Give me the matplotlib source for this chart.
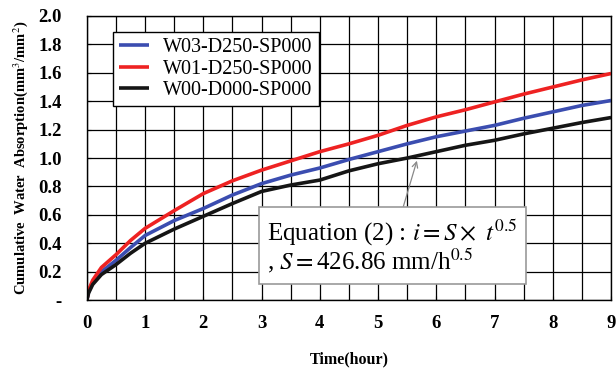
import numpy as np
import matplotlib
matplotlib.use("Agg")
import matplotlib.pyplot as plt

plt.rcParams['font.family'] = 'Liberation Serif'
plt.rcParams['mathtext.fontset'] = 'stix'

# Cumulative water absorption (mm^3/mm^2) read along the time axis (hours)
time_h = [0, 0.03, 0.1, 0.25, 0.5, 0.75, 1, 1.5, 2, 2.5, 3, 3.5, 4, 4.5,
          5, 5.5, 6, 6.5, 7, 7.5, 8, 8.5, 9]
w03_d250 = [0, 0.06, 0.12, 0.20, 0.28, 0.37, 0.455, 0.56, 0.645, 0.74, 0.82, 0.88, 0.93, 0.99,
            1.045, 1.10, 1.15, 1.19, 1.23, 1.28, 1.325, 1.37, 1.405]
w01_d250 = [0, 0.07, 0.14, 0.23, 0.32, 0.42, 0.505, 0.63, 0.75, 0.84, 0.915, 0.98, 1.045, 1.10,
            1.16, 1.23, 1.29, 1.34, 1.395, 1.45, 1.50, 1.55, 1.595]
w00_d000 = [0, 0.05, 0.11, 0.18, 0.25, 0.33, 0.40, 0.50, 0.59, 0.68, 0.765, 0.81, 0.845, 0.91,
            0.96, 1.00, 1.045, 1.09, 1.125, 1.17, 1.21, 1.25, 1.285]

series_names = ["W03-D250-SP000", "W01-D250-SP000", "W00-D000-SP000"]
series_colors = ["#3b4db0", "#ee2222", "#151515"]

x_ticks = np.arange(0, 10, 1)
y_ticks = np.round(np.arange(0, 2.01, 0.2), 1)
y_tick_labels = ["-"] + [f"{v:.1f}" for v in y_ticks[1:]]

fig = plt.figure(figsize=(6.16, 3.71), dpi=100)
ax = fig.add_axes([0.141, 0.191, 0.851, 0.766])

for vals, name, color in zip([w03_d250, w01_d250, w00_d000], series_names, series_colors):
    ax.plot(time_h, vals, color=color, lw=2.6, label=name, solid_capstyle='butt')

ax.set_xlim(0, 9)
ax.set_ylim(0, 2.0)
ax.set_xticks(np.arange(0, 9.01, 0.5), minor=True)
ax.set_xticks(x_ticks)
ax.set_yticks(y_ticks)
ax.set_xticklabels([str(v) for v in x_ticks], fontweight='bold', fontsize=13.5)
ax.set_yticklabels(y_tick_labels, fontweight='bold', fontsize=13.5)
ax.grid(True, which='both', color='black', lw=0.9)
ax.set_axisbelow(True)
ax.tick_params(which='both', direction='in', length=3)
ax.tick_params(axis='y', pad=18)
ax.tick_params(axis='x', pad=11)
for sp in ax.spines.values():
    sp.set_color('black')
    sp.set_linewidth(1.0)

ax.set_xlabel("Time(hour)", fontweight='bold', fontsize=11.5, labelpad=14)
ax.set_ylabel("Cumulative  Water  Absorption(mm$^3$/mm$^2$)", fontweight='bold',
              fontsize=10.5, labelpad=6)

leg = ax.legend(loc='upper left', bbox_to_anchor=(0.03, 0.978), fontsize=14.5,
                fancybox=False, framealpha=1, edgecolor='black', handlelength=1.5,
                borderpad=0.3, labelspacing=0.12, handletextpad=0.7)
leg.get_frame().set_linewidth(1.0)

ax.annotate("", xy=(5.68, 1.0), xytext=(5.42, 0.64),
            arrowprops=dict(arrowstyle='->', color='#888888', lw=0.9))
ax.text(3.1, 0.38, "Equation (2) : $i = S\\times\\ t^{0.5}$\n, $S = $426.86 mm/h$^{0.5}$",
        fontsize=18, va='center', ha='left', linespacing=0.95,
        bbox=dict(boxstyle='square,pad=0.35', fc='white', ec='#999999', lw=1.2))

fig.savefig("out.png", dpi=100)
